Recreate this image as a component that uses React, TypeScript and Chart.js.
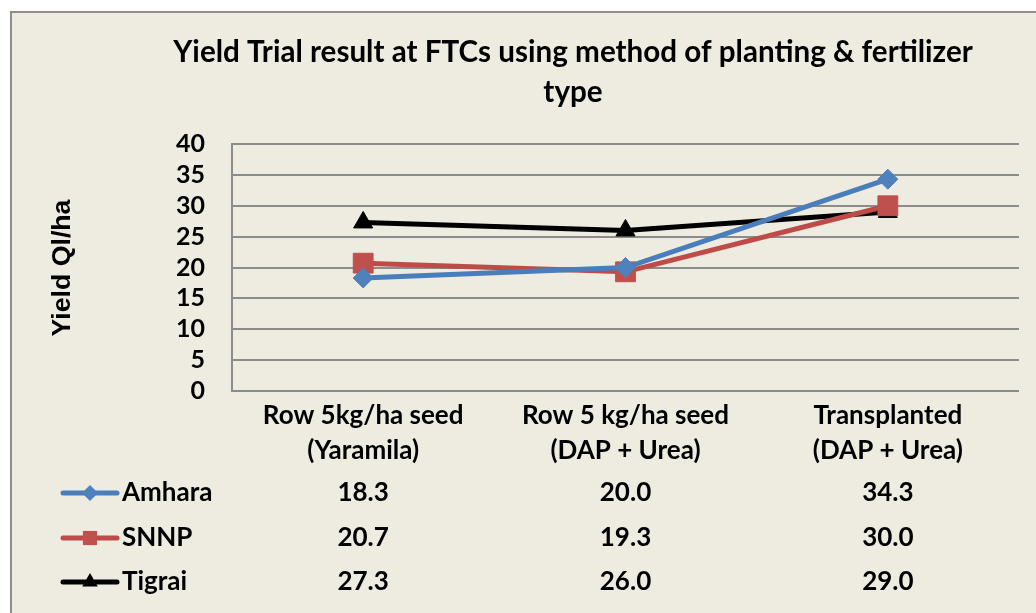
import React, { useEffect, useRef } from 'react';
import { Chart, registerables } from 'chart.js';

Chart.register(...registerables);

const categories: string[][] = [
  ['Row 5kg/ha seed', '(Yaramila)'],
  ['Row 5 kg/ha seed', '(DAP + Urea)'],
  ['Transplanted', '(DAP + Urea)'],
];
const seriesNames = ['Amhara', 'SNNP', 'Tigrai'];
const amharaValues = [18.3, 20.0, 34.3];
const snnpValues = [20.7, 19.3, 30.0];
const tigraiValues = [27.3, 26.0, 29.0];
const yMin = 0;
const yMax = 40;
const yStep = 5;
const titleLines = ['Yield Trial result at FTCs using method of planting & fertilizer', 'type'];
const yTitle = 'Yield Ql/ha';

const lineColors = ['#4A7EBB', '#BE4B48', '#000000'];
const markerColors = ['#4F81BD', '#C0504D', '#000000'];
const pointStyles = ['rectRot', 'rect', 'triangle'];
const plotRadii = [10, 14, 11];
const legendRadii = [8, 10, 9];

const FONT = 'Lato, "Open Sans", sans-serif';

function drawMarker(ctx: CanvasRenderingContext2D, style: string, x: number, y: number, r: number, color: string) {
  ctx.save();
  ctx.fillStyle = color;
  ctx.beginPath();
  if (style === 'rectRot') {
    ctx.moveTo(x, y - r);
    ctx.lineTo(x + r, y);
    ctx.lineTo(x, y + r);
    ctx.lineTo(x - r, y);
    ctx.closePath();
  } else if (style === 'rect') {
    const s = r * Math.SQRT1_2;
    ctx.rect(x - s, y - s, 2 * s, 2 * s);
  } else {
    let rad = 0;
    ctx.moveTo(x + Math.sin(rad) * r, y - Math.cos(rad) * r);
    rad += (2 * Math.PI) / 3;
    ctx.lineTo(x + Math.sin(rad) * r, y - Math.cos(rad) * r);
    rad += (2 * Math.PI) / 3;
    ctx.lineTo(x + Math.sin(rad) * r, y - Math.cos(rad) * r);
    ctx.closePath();
  }
  ctx.fill();
  ctx.restore();
}

const extrasPlugin = {
  id: 'extras',
  afterDraw(chart: any) {
    const ctx: CanvasRenderingContext2D = chart.ctx;
    const xScale = chart.scales.x;
    ctx.save();
    ctx.fillStyle = '#000';
    ctx.textAlign = 'center';
    ctx.textBaseline = 'middle';
    // Title, fitted to the reference width
    ctx.font = `bold 24px ${FONT}`;
    const w = ctx.measureText(titleLines[0]).width;
    const size = (24 * 800) / w;
    ctx.font = `bold ${size.toFixed(2)}px ${FONT}`;
    ctx.fillText(titleLines[0], 573, 52);
    ctx.fillText(titleLines[1], 573, 92);

    // Y axis title
    ctx.save();
    ctx.translate(63, 268);
    ctx.rotate(-Math.PI / 2);
    ctx.font = 'bold 20px "Liberation Sans", Arial, sans-serif';
    const yw = ctx.measureText(yTitle).width;
    const ys = (20 * 137) / yw;
    ctx.font = `bold ${ys.toFixed(2)}px "Liberation Sans", Arial, sans-serif`;
    ctx.fillText(yTitle, 0, 0);
    ctx.restore();

    // Data table with legend keys
    const rowY = [493, 538, 582];
    ctx.font = `bold 26px ${FONT}`;
    chart.data.datasets.forEach((ds: any, i: number) => {
      const y = rowY[i];
      ctx.save();
      ctx.strokeStyle = lineColors[i];
      ctx.lineWidth = 5;
      ctx.lineCap = 'round';
      ctx.beginPath();
      ctx.moveTo(63, y);
      ctx.lineTo(117, y);
      ctx.stroke();
      ctx.restore();
      drawMarker(ctx, pointStyles[i], 90, y, legendRadii[i], markerColors[i]);
      ctx.textAlign = 'left';
      ctx.fillText(ds.label, 122, y);
      ctx.textAlign = 'center';
      ds.data.forEach((v: number, j: number) => {
        ctx.fillText(v.toFixed(1), xScale.getPixelForValue(j), y);
      });
    });
    ctx.restore();
  },
};

export default function App() {
  const canvasRef = useRef<HTMLCanvasElement | null>(null);

  useEffect(() => {
    document.body.style.margin = '0';
    const canvas = canvasRef.current;
    if (!canvas) return;
    const seriesValues = [amharaValues, snnpValues, tigraiValues];
    const chart = new Chart(canvas, {
      type: 'line',
      data: {
        labels: categories,
        datasets: seriesNames.map((name, i) => ({
          label: name,
          data: seriesValues[i],
          borderColor: lineColors[i],
          backgroundColor: markerColors[i],
          borderWidth: 5,
          tension: 0,
          pointStyle: pointStyles[i] as any,
          pointRadius: plotRadii[i],
          pointHoverRadius: plotRadii[i],
          pointBackgroundColor: markerColors[i],
          pointBorderColor: markerColors[i],
          pointBorderWidth: 1,
        })),
      },
      options: {
        responsive: false,
        animation: false,
        maintainAspectRatio: false,
        layout: { padding: { left: 0, right: 17, top: 144, bottom: 122 } },
        plugins: {
          legend: { display: false },
          title: { display: false },
          tooltip: { enabled: false },
        },
        scales: {
          x: {
            offset: true,
            grid: { display: false },
            border: { display: false },
            ticks: {
              color: '#000',
              font: { family: FONT, size: 26, weight: 'bold', lineHeight: 1.35 },
              padding: -1,
              maxRotation: 0,
              autoSkip: false,
            },
            afterFit: (s: any) => {
              s.height = 100;
            },
          },
          y: {
            min: yMin,
            max: yMax,
            ticks: {
              stepSize: yStep,
              autoSkip: false,
              color: '#000',
              font: { family: FONT, size: 25, weight: 'bold', lineHeight: 1 },
              padding: 27,
            },
            grid: { color: '#8C8C8C', lineWidth: 2, drawTicks: false },
            border: { display: true, color: '#8C8C8C', width: 2 },
            afterFit: (s: any) => {
              s.width = 232;
            },
          },
        },
      },
      plugins: [extrasPlugin],
    });
    return () => chart.destroy();
  }, []);

  return (
    <div style={{ position: 'fixed', left: 0, top: 0, width: 1036, height: 613, overflow: 'hidden', background: '#fff' }}>
      <div
        style={{
          position: 'absolute',
          left: 10,
          top: 11,
          width: 1100,
          height: 700,
          background: '#EEEBE0',
          border: '2px solid #8E8E8E',
        }}
      />
      <canvas ref={canvasRef} width={1036} height={613} style={{ position: 'absolute', left: 0, top: 0 }} />
    </div>
  );
}
